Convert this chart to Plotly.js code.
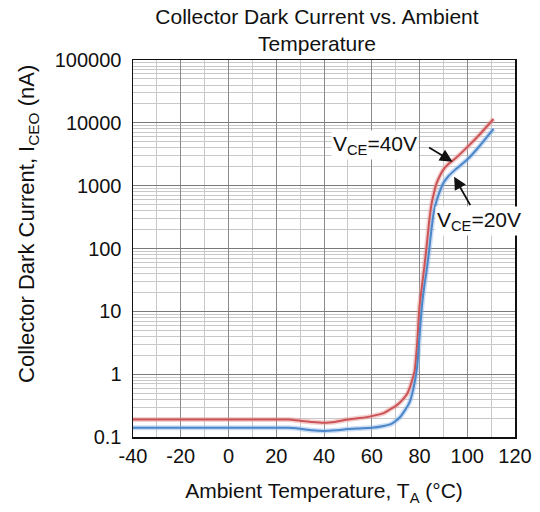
<!DOCTYPE html>
<html>
<head>
<meta charset="utf-8">
<script src="https://cdn.plot.ly/plotly-3.0.1.min.js"></script>
<style>html,body{margin:0;padding:0;background:#fff;}#chart{width:540px;height:512px;}</style>
</head>
<body>
<div id="chart"></div>
<script>
// Temperature (°C)
const temps = [-40,-30,-20,-10,0,10,20,25,30,35,40,45,50,55,60,65,68,70,72,74,75,76,77,78,79,80,81,82,83,84,85,86,87,88,90,92,95,100,105,111];
// VCE = 40V, dark current (nA)
const vce40 = [0.19,0.19,0.19,0.19,0.19,0.19,0.19,0.19,0.182,0.173,0.168,0.175,0.19,0.20,0.215,0.24,0.28,0.31,0.36,0.44,0.50,0.62,0.82,1.15,3.0,12,25,50,110,260,500,750,1050,1300,1800,2200,2700,4100,6400,11500];
// VCE = 20V, dark current (nA)
const vce20 = [0.14,0.14,0.14,0.14,0.14,0.14,0.14,0.14,0.135,0.128,0.125,0.128,0.134,0.137,0.14,0.15,0.16,0.18,0.21,0.27,0.31,0.37,0.5,0.75,1.3,4,12,25,45,90,200,380,550,720,1100,1400,1800,2600,4200,8000];
const yTickVals = [0.1,1,10,100,1000,10000,100000];
const yTickText = ['0.1','1','10','100','1000','10000','100000'];
const xTickVals = [-40,-20,0,20,40,60,80,100,120];
const xTickText = ['-40','-20','0','20','40','60','80','100','120'];

const font = 'Arial, "Liberation Sans", sans-serif';

const traces = [
  {x: temps, y: vce40, mode:'lines', line:{color:'rgba(230,150,150,0.45)', width:5, shape:'spline', smoothing:0.6}, hoverinfo:'skip', showlegend:false},
  {x: temps, y: vce20, mode:'lines', line:{color:'rgba(140,180,230,0.45)', width:5, shape:'spline', smoothing:0.6}, hoverinfo:'skip', showlegend:false},
  {x: temps, y: vce40, mode:'lines', name:'VCE=40V', line:{color:'#cc5456', width:2, shape:'spline', smoothing:0.6}, showlegend:false},
  {x: temps, y: vce20, mode:'lines', name:'VCE=20V', line:{color:'#4a86c8', width:2, shape:'spline', smoothing:0.6}, showlegend:false}
];

const layout = {
  width:540, height:512,
  margin:{l:133, r:25, t:60, b:75},
  paper_bgcolor:'#fff', plot_bgcolor:'#fff',
  font:{family:font, size:20, color:'#111'},
  showlegend:false,
  title:{text:'Collector Dark Current vs. Ambient<br>Temperature', font:{family:font, size:21, color:'#111'}, x:0.587, xanchor:'center', xref:'container', yref:'container', y:0.953, yanchor:'middle', automargin:false},
  xaxis:{
    range:[-40,120], tickvals:xTickVals, ticktext:xTickText, ticks:'', showline:true, linecolor:'#111', linewidth:1.5, mirror:true,
    showgrid:true, gridcolor:'#8a8a8a', gridwidth:1,
    minor:{dtick:10, tick0:0, showgrid:true, gridcolor:'#c8c8c8', gridwidth:1},
    tickfont:{size:20}, zeroline:false,
    title:{text:'Ambient Temperature, T<sub>A</sub> (°C)', font:{size:21}, standoff:18}
  },
  yaxis:{
    type:'log', range:[-1,5], tickvals:yTickVals, ticktext:yTickText, ticks:'', showline:true, linecolor:'#111', linewidth:1.5, mirror:true,
    showgrid:true, gridcolor:'#7a7a7a', gridwidth:1.2,
    minor:{dtick:'D1', showgrid:true, gridcolor:'#c8c8c8', gridwidth:1},
    tickfont:{size:20}, zeroline:false, ticklabelstandoff:6
  },
  annotations:[
    {xref:'paper', yref:'paper', x:-0.275, y:0.565, text:'Collector Dark Current, I<sub>CEO</sub> (nA)', textangle:-90, showarrow:false, font:{size:22}, xanchor:'center', yanchor:'middle'},
    {x:93.85, y:Math.log10(2410), text:'', showarrow:true, arrowhead:2, arrowsize:1.4, arrowwidth:1.8, arrowcolor:'#111', ax:-25, ay:-15},
    {x:94.5, y:Math.log10(1390), text:'', showarrow:true, arrowhead:2, arrowsize:1.4, arrowwidth:1.8, arrowcolor:'#111', ax:17, ay:30},
    {xref:'paper', yref:'paper', x:(375-133)/382, y:(437-145)/377, text:'V<sub>CE</sub>=40V', showarrow:false, bgcolor:'#fff', font:{size:21}, xanchor:'center', yanchor:'middle', borderpad:1},
    {xref:'paper', yref:'paper', x:(479-133)/382, y:(437-221)/377, text:'V<sub>CE</sub>=20V', showarrow:false, bgcolor:'#fff', font:{size:21}, xanchor:'center', yanchor:'middle', borderpad:1}
  ]
};

Plotly.newPlot('chart', traces, layout, {staticPlot:true, displayModeBar:false});
</script>
</body>
</html>
